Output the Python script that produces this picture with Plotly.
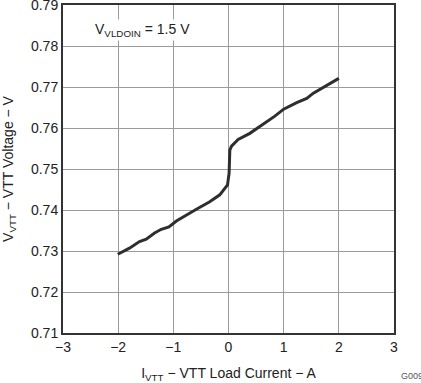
import plotly.graph_objects as go

current_a = [-2.007, -1.795, -1.613, -1.491, -1.34, -1.218, -1.08, -0.945, -0.582,
             -0.34, -0.158, -0.018, 0.011, 0.012, 0.024, 0.055, 0.175, 0.387, 0.751,
             0.84, 1.0, 1.236, 1.418, 1.538, 2.0]
voltage_v = [0.7292, 0.7307, 0.7323, 0.7329, 0.7344, 0.7353, 0.7359, 0.7373, 0.7402,
             0.7420, 0.7437, 0.7461, 0.7490, 0.7530, 0.7546, 0.7556, 0.7572, 0.7587, 0.7620,
             0.7629, 0.7646, 0.7662, 0.7672, 0.7685, 0.7721]

x_ticks = [-3, -2, -1, 0, 1, 2, 3]
y_ticks = [0.71, 0.72, 0.73, 0.74, 0.75, 0.76, 0.77, 0.78, 0.79]

FONT = "Liberation Sans, Arial, sans-serif"
TXT = "#222222"

fig = go.Figure()
fig.add_trace(go.Scatter(x=current_a, y=voltage_v, mode="lines",
                         line=dict(color="#2e2e2e", width=3), showlegend=False))

fig.update_layout(
    width=421, height=383,
    margin=dict(l=63, r=27, t=5, b=50),
    paper_bgcolor="white", plot_bgcolor="white",
    font=dict(family=FONT, size=14, color=TXT),
    xaxis=dict(range=[-3, 3], tickvals=x_ticks, showgrid=True, gridcolor="#9a9a9a",
               gridwidth=1, showline=True, linecolor="#333333", linewidth=2, mirror=True,
               zeroline=False, ticks="", tickfont=dict(size=14), automargin=False,
               title=dict(text="I<sub>VTT</sub> − VTT Load Current − A",
                          font=dict(size=14), standoff=14)),
    yaxis=dict(range=[0.71, 0.79001], tickvals=y_ticks, tickformat=".2f", showgrid=True,
               gridcolor="#9a9a9a", gridwidth=1, showline=True, linecolor="#333333",
               linewidth=2, mirror=True, zeroline=False, ticks="", tickfont=dict(size=14),
               automargin=False, ticklabeloverflow="allow",
               title=dict(text="V<sub>VTT</sub> − VTT Voltage − V",
                          font=dict(size=14), standoff=16)),
    annotations=[
        dict(x=-2.45, y=0.784, xref="x", yref="y", xanchor="left", yanchor="middle",
             text="V<sub>VLDOIN</sub> = 1.5 V", showarrow=False, bgcolor="white",
             font=dict(size=14, color=TXT)),
        dict(x=1.0, y=0.0, xref="paper", yref="paper", xanchor="right", yanchor="top",
             xshift=31, yshift=-36, text="G009", showarrow=False,
             font=dict(size=9, color="#555555")),
    ],
)

fig.write_html("out.html", config={"displayModeBar": False},
               post_script="document.body.style.margin='0';")
